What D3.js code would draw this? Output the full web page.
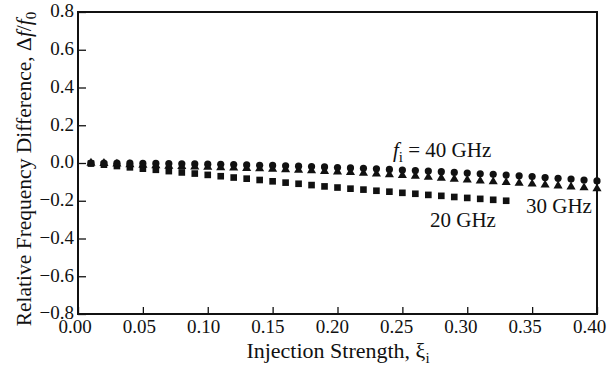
<!DOCTYPE html>
<html>
<head>
<meta charset="utf-8">
<script src="https://cdn.jsdelivr.net/npm/d3@7"></script>
<style>
  body { margin: 0; background: #fff; }
  text { font-family: "Liberation Serif", "Times New Roman", serif; fill: #111; }
</style>
</head>
<body>
<div class="canva"></div>
<script>
// injection strength, 0.01 .. 0.40
const xi40 = [0.01,0.02,0.03,0.04,0.05,0.06,0.07,0.08,0.09,0.10,0.11,0.12,0.13,0.14,0.15,0.16,0.17,0.18,0.19,0.20,
              0.21,0.22,0.23,0.24,0.25,0.26,0.27,0.28,0.29,0.30,0.31,0.32,0.33,0.34,0.35,0.36,0.37,0.38,0.39,0.40];
const df40 = [0.000,0.000,-0.001,-0.001,-0.002,-0.002,-0.003,-0.004,-0.005,-0.006,-0.007,-0.008,-0.010,-0.012,-0.013,-0.015,-0.017,-0.019,-0.021,-0.024,
              -0.026,-0.028,-0.031,-0.034,-0.037,-0.040,-0.043,-0.046,-0.050,-0.053,-0.057,-0.060,-0.064,-0.068,-0.072,-0.077,-0.081,-0.085,-0.090,-0.095];

const xi30 = xi40;
const df30 = [0.000,-0.002,-0.005,-0.008,-0.011,-0.014,-0.016,-0.018,-0.020,-0.022,-0.024,-0.026,-0.028,-0.030,-0.033,-0.035,-0.038,-0.041,-0.044,-0.047,
              -0.050,-0.054,-0.058,-0.062,-0.066,-0.070,-0.075,-0.080,-0.085,-0.090,-0.095,-0.099,-0.103,-0.107,-0.111,-0.116,-0.121,-0.126,-0.131,-0.136];

const xi20 = [0.01,0.02,0.03,0.04,0.05,0.06,0.07,0.08,0.09,0.10,0.11,0.12,0.13,0.14,0.15,0.16,0.17,0.18,0.19,0.20,
              0.21,0.22,0.23,0.24,0.25,0.26,0.27,0.28,0.29,0.30,0.31,0.32,0.33];
const df20 = [-0.003,-0.009,-0.016,-0.023,-0.030,-0.036,-0.043,-0.050,-0.056,-0.063,-0.070,-0.077,-0.083,-0.090,-0.097,-0.104,-0.110,-0.117,-0.124,-0.130,
              -0.136,-0.141,-0.147,-0.152,-0.158,-0.163,-0.169,-0.174,-0.180,-0.185,-0.190,-0.195,-0.200];

const xTicks = [0,0.05,0.10,0.15,0.20,0.25,0.30,0.35,0.40];
const yTicks = [-0.8,-0.6,-0.4,-0.2,0,0.2,0.4,0.6,0.8];

const pLeft = 78, pRight = 597, pTop = 12, pBottom = 314;

const svg = d3.select(".canva").append("svg")
    .attr("width", 608)
    .attr("height", 367);

const x = d3.scaleLinear().domain([0, 0.40]).range([pLeft, pRight]);
const y = d3.scaleLinear().domain([-0.8, 0.8]).range([pBottom, pTop]);
// tick labels sit a little left of their ticks in the original
const xLab = d3.scaleLinear().domain([0, 0.40]).range([74.5, 589]);

// axes, ticks pointing inward
const gx = svg.append("g")
    .attr("transform", `translate(0,${pBottom})`)
    .call(d3.axisBottom(x).tickValues(xTicks).tickFormat(d3.format(".2f"))
        .tickSizeInner(-7).tickSizeOuter(0).tickPadding(6));
gx.selectAll(".tick text").attr("x", d => xLab(d) - x(d));

const gy = svg.append("g")
    .attr("transform", `translate(${pLeft},0)`)
    .call(d3.axisLeft(y).tickValues(yTicks).tickFormat(d3.format(".1f"))
        .tickSizeInner(-8).tickSizeOuter(0).tickPadding(4));
gy.selectAll(".tick text").attr("dy", "0.25em");

[gx, gy].forEach(g => {
  g.select(".domain").remove();
  g.selectAll(".tick line").attr("stroke", "#111").attr("stroke-width", 1.3);
  g.selectAll(".tick text").attr("font-size", 19)
    .attr("font-family", "Liberation Serif, serif").attr("fill", "#111");
});

svg.append("rect")
    .attr("x", pLeft).attr("y", pTop)
    .attr("width", pRight - pLeft).attr("height", pBottom - pTop)
    .attr("fill", "none").attr("stroke", "#111").attr("stroke-width", 2);

// 20 GHz squares
svg.append("g").selectAll("path")
    .data(xi20.map((v, i) => [v, df20[i]]))
    .join("path")
    .attr("d", d3.symbol(d3.symbolSquare, 44))
    .attr("transform", d => `translate(${x(d[0])},${y(d[1])})`)
    .attr("fill", "#111");

// 30 GHz triangles
svg.append("g").selectAll("path")
    .data(xi30.map((v, i) => [v, df30[i]]))
    .join("path")
    .attr("d", d3.symbol(d3.symbolTriangle, 36))
    .attr("transform", d => `translate(${x(d[0])},${y(d[1])})`)
    .attr("fill", "#111");

// 40 GHz circles
svg.append("g").selectAll("circle")
    .data(xi40.map((v, i) => [v, df40[i]]))
    .join("circle")
    .attr("cx", d => x(d[0]))
    .attr("cy", d => y(d[1]))
    .attr("r", 3.6)
    .attr("fill", "#111");

// annotations
const a40 = svg.append("text").attr("x", 393).attr("y", 157).attr("font-size", 21);
a40.append("tspan").attr("font-style", "italic").text("f");
a40.append("tspan").attr("font-size", 15).attr("dy", 5).text("i");
a40.append("tspan").attr("dy", -5).text(" = 40 GHz");

svg.append("text").text("30 GHz").attr("x", 526).attr("y", 213).attr("font-size", 21);
svg.append("text").text("20 GHz").attr("x", 430).attr("y", 227).attr("font-size", 21);

// axis titles
const xt = svg.append("text").attr("x", 338).attr("y", 358)
    .attr("text-anchor", "middle").attr("font-size", 22);
xt.append("tspan").text("Injection Strength, ξ");
xt.append("tspan").attr("font-size", 15).attr("dy", 5).text("i");

const yt = svg.append("text")
    .attr("transform", "translate(31,169) rotate(-90)")
    .attr("text-anchor", "middle").attr("font-size", 21.5);
yt.append("tspan").text("Relative Frequency Difference, Δ");
yt.append("tspan").attr("font-style", "italic").text("f");
yt.append("tspan").text("/");
yt.append("tspan").attr("font-style", "italic").text("f");
yt.append("tspan").attr("font-size", 15).attr("dy", 5).text("0");
</script>
</body>
</html>
